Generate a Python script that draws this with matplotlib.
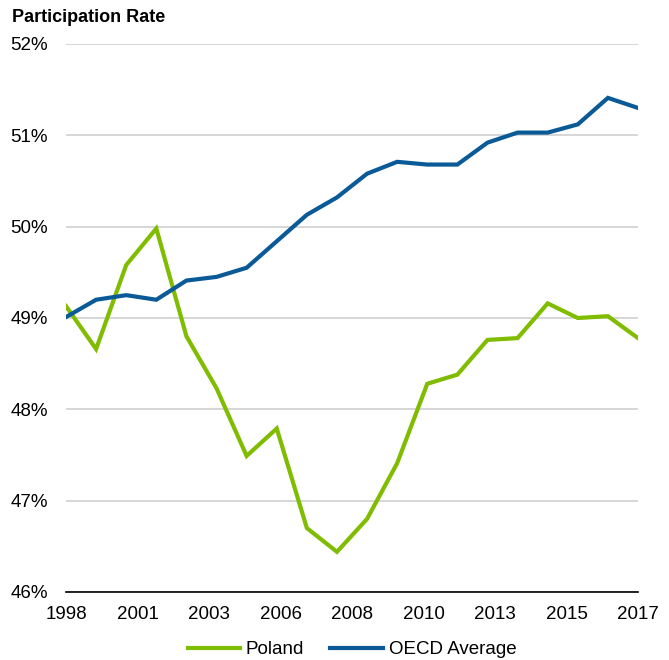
import matplotlib.pyplot as plt
import numpy as np

plt.rcParams["font.family"] = ["Liberation Sans Narrow", "Liberation Sans", "DejaVu Sans"]

years = np.arange(1998, 2018)
poland = [49.13, 48.66, 49.58, 49.98, 48.80, 48.23, 47.49, 47.79, 46.70, 46.44,
          46.80, 47.41, 48.28, 48.38, 48.76, 48.78, 49.16, 49.00, 49.02, 48.78]
oecd = [49.01, 49.20, 49.25, 49.20, 49.41, 49.45, 49.55, 49.84, 50.13, 50.32,
        50.58, 50.71, 50.68, 50.68, 50.92, 51.03, 51.03, 51.12, 51.41, 51.30]
tick_labels = ["1998", "2001", "2003", "2006", "2008", "2010", "2013", "2015", "2017"]
y_ticks = [46, 47, 48, 49, 50, 51, 52]

fig = plt.figure(figsize=(6.69, 6.6), dpi=100)
axis = fig.add_axes([66 / 669, 1 - 592 / 660, 572 / 669, 548 / 660])

axis.plot(years, poland, c="#80BC00", lw=3, solid_joinstyle="miter", label="Poland", zorder=3)
axis.plot(years, oecd, c="#0B5A98", lw=3, solid_joinstyle="miter", label="OECD Average", zorder=3)

axis.set_xlim(1998, 2017)
axis.set_ylim(46, 52)
axis.set_yticks(y_ticks)
axis.set_yticklabels([f"{v}%" for v in y_ticks])
axis.set_xticks(np.linspace(1998, 2017, len(tick_labels)))
axis.set_xticklabels(tick_labels)
axis.tick_params(length=0, labelsize=13.5, colors="black")
axis.tick_params(axis="x", pad=10)
axis.tick_params(axis="y", pad=13)
axis.grid(axis="y", color="#D0D0D0", lw=1.2)
axis.set_axisbelow(True)
for side in ["top", "right", "left"]:
    axis.spines[side].set_visible(False)
axis.spines["bottom"].set_color("black")
axis.spines["bottom"].set_linewidth(1.2)
axis.spines["bottom"].set_zorder(4)

fig.text(12 / 669, 1 - 17 / 660, "Participation Rate", fontsize=13, fontweight="bold",
         va="center", ha="left")

axis.legend(loc="center", bbox_to_anchor=(0.5, -0.105), ncol=2, frameon=False,
            fontsize=13.5, handlelength=2.8, handletextpad=0.3, columnspacing=1.4)

fig.savefig("out.png", dpi=100)
